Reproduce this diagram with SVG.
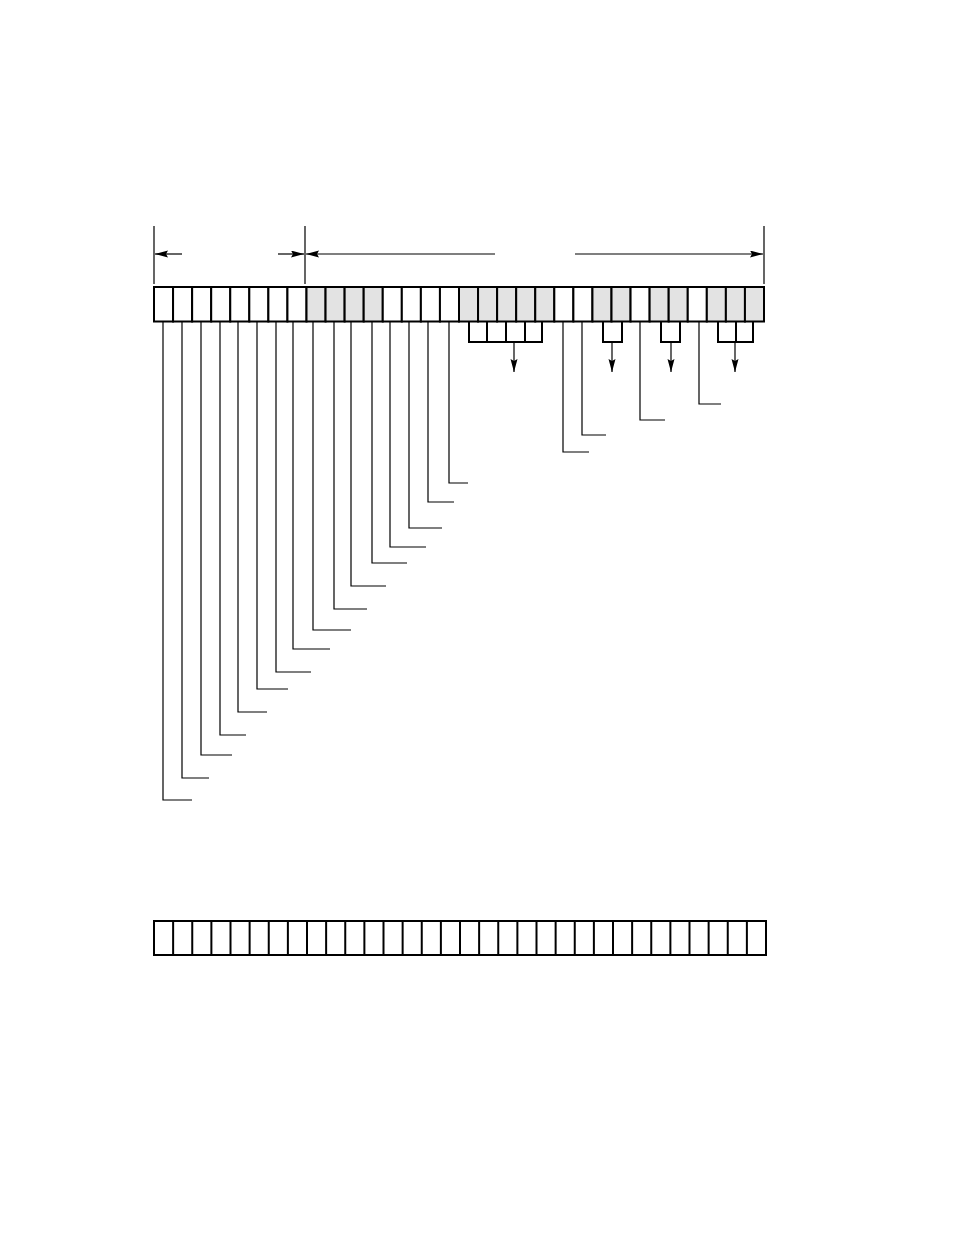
<svg xmlns="http://www.w3.org/2000/svg" width="954" height="1235" viewBox="0 0 954 1235">
<style>
.cell{fill:#fff;stroke:#000;stroke-width:2}
.sh{fill:#e3e3e3;stroke:#000;stroke-width:2}
.ld{fill:none;stroke:#000;stroke-width:1.2}
.br{fill:none;stroke:#000;stroke-width:2}
.dim{fill:none;stroke:#000;stroke-width:1.2}
.arr{fill:none;stroke:#000;stroke-width:1.2;marker-end:url(#ah)}
</style>
<defs>
<marker id="ah" markerUnits="userSpaceOnUse" markerWidth="14" markerHeight="8" refX="13" refY="3.5" orient="auto">
<path d="M0,0 L13,3.5 L0,7 L2,3.5 z" fill="#000"/>
</marker>
</defs>
<rect width="954" height="1235" fill="#fff"/>
<g id="register-top">
<rect class="cell" x="154" y="287" width="19.06" height="34.5"/>
<rect class="cell" x="173.06" y="287" width="19.06" height="34.5"/>
<rect class="cell" x="192.13" y="287" width="19.06" height="34.5"/>
<rect class="cell" x="211.19" y="287" width="19.06" height="34.5"/>
<rect class="cell" x="230.25" y="287" width="19.06" height="34.5"/>
<rect class="cell" x="249.31" y="287" width="19.06" height="34.5"/>
<rect class="cell" x="268.38" y="287" width="19.06" height="34.5"/>
<rect class="cell" x="287.44" y="287" width="19.06" height="34.5"/>
<rect class="sh" x="306.5" y="287" width="19.06" height="34.5"/>
<rect class="sh" x="325.56" y="287" width="19.06" height="34.5"/>
<rect class="sh" x="344.63" y="287" width="19.06" height="34.5"/>
<rect class="sh" x="363.69" y="287" width="19.06" height="34.5"/>
<rect class="cell" x="382.75" y="287" width="19.06" height="34.5"/>
<rect class="cell" x="401.81" y="287" width="19.06" height="34.5"/>
<rect class="cell" x="420.88" y="287" width="19.06" height="34.5"/>
<rect class="cell" x="439.94" y="287" width="19.06" height="34.5"/>
<rect class="sh" x="459" y="287" width="19.06" height="34.5"/>
<rect class="sh" x="478.06" y="287" width="19.06" height="34.5"/>
<rect class="sh" x="497.13" y="287" width="19.06" height="34.5"/>
<rect class="sh" x="516.19" y="287" width="19.06" height="34.5"/>
<rect class="sh" x="535.25" y="287" width="19.06" height="34.5"/>
<rect class="cell" x="554.31" y="287" width="19.06" height="34.5"/>
<rect class="cell" x="573.38" y="287" width="19.06" height="34.5"/>
<rect class="sh" x="592.44" y="287" width="19.06" height="34.5"/>
<rect class="sh" x="611.5" y="287" width="19.06" height="34.5"/>
<rect class="cell" x="630.56" y="287" width="19.06" height="34.5"/>
<rect class="sh" x="649.63" y="287" width="19.06" height="34.5"/>
<rect class="sh" x="668.69" y="287" width="19.06" height="34.5"/>
<rect class="cell" x="687.75" y="287" width="19.06" height="34.5"/>
<rect class="sh" x="706.81" y="287" width="19.06" height="34.5"/>
<rect class="sh" x="725.88" y="287" width="19.06" height="34.5"/>
<rect class="sh" x="744.94" y="287" width="19.06" height="34.5"/>
</g>
<g id="register-bottom">
<rect class="cell" x="154" y="921" width="612" height="34"/>
<path class="br" d="M173.13,921V955M192.25,921V955M211.38,921V955M230.5,921V955M249.63,921V955M268.75,921V955M287.88,921V955M307,921V955M326.13,921V955M345.25,921V955M364.38,921V955M383.5,921V955M402.63,921V955M421.75,921V955M440.88,921V955M460,921V955M479.13,921V955M498.25,921V955M517.38,921V955M536.5,921V955M555.63,921V955M574.75,921V955M593.88,921V955M613,921V955M632.13,921V955M651.25,921V955M670.38,921V955M689.5,921V955M708.63,921V955M727.75,921V955M746.88,921V955"/>
</g>
<g id="dimensions">
<path class="dim" d="M154,226V284M305,226V284M764,226V284"/>
<path class="arr" d="M182,254H155"/>
<path class="arr" d="M278,254H304"/>
<path class="arr" d="M495,254H306"/>
<path class="arr" d="M575,254H763"/>
</g>
<g id="connectors">
<path class="ld" d="M163,322V800H192"/>
<path class="ld" d="M182,322V778H209"/>
<path class="ld" d="M201,322V755H232"/>
<path class="ld" d="M220,322V735H246"/>
<path class="ld" d="M238,322V712H267"/>
<path class="ld" d="M257,322V689H288"/>
<path class="ld" d="M276,322V672H311"/>
<path class="ld" d="M293,322V649H330"/>
<path class="ld" d="M313,322V630H351"/>
<path class="ld" d="M334,322V609H367"/>
<path class="ld" d="M351,322V586H386"/>
<path class="ld" d="M372,322V563H407"/>
<path class="ld" d="M390,322V547H426"/>
<path class="ld" d="M409,322V528H442"/>
<path class="ld" d="M428,322V502H454"/>
<path class="ld" d="M449,322V483H468"/>
<path class="ld" d="M563,322V452H589"/>
<path class="ld" d="M582,322V435H606"/>
<path class="ld" d="M640,322V420H665"/>
<path class="ld" d="M699,322V404H721"/>
<path class="br" d="M469,322V342H542V322M487,322V342M506,322V342M525,322V342"/>
<path class="br" d="M603,322V342H622V322"/>
<path class="br" d="M661,322V342H680V322"/>
<path class="br" d="M718,322V342H753V322M736,322V342"/>
<path class="arr" d="M514,342V372"/>
<path class="arr" d="M612,342V372"/>
<path class="arr" d="M671,342V372"/>
<path class="arr" d="M735,342V372"/>
</g>
</svg>
